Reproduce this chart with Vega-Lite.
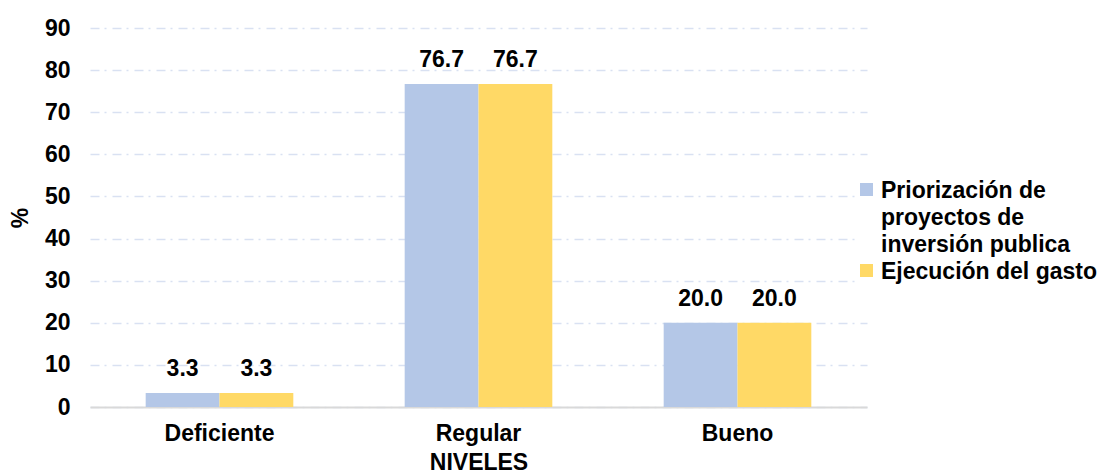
{
  "$schema": "https://vega.github.io/schema/vega-lite/v6.json",
  "width": 777,
  "height": 379,
  "autosize": {"type": "none"},
  "padding": {"left": 90, "top": 28, "right": 237, "bottom": 67},
  "background": "white",
  "config": {
    "font": "Liberation Sans",
    "view": {"stroke": null}
  },
  "data": {
    "values": [
      {"nivel": "Deficiente", "serie": "Priorización de proyectos de inversión publica", "valor": 3.3},
      {"nivel": "Deficiente", "serie": "Ejecución del gasto", "valor": 3.3},
      {"nivel": "Regular", "serie": "Priorización de proyectos de inversión publica", "valor": 76.7},
      {"nivel": "Regular", "serie": "Ejecución del gasto", "valor": 76.7},
      {"nivel": "Bueno", "serie": "Priorización de proyectos de inversión publica", "valor": 20.0},
      {"nivel": "Bueno", "serie": "Ejecución del gasto", "valor": 20.0}
    ]
  },
  "encoding": {
    "x": {
      "field": "nivel",
      "type": "nominal",
      "sort": ["Deficiente", "Regular", "Bueno"],
      "scale": {"paddingInner": 0.43, "paddingOuter": 0.215},
      "axis": {
        "title": "NIVELES",
        "labelAngle": 0,
        "labelFontSize": 23,
        "labelFontWeight": "bold",
        "labelColor": "#000000",
        "labelPadding": 15,
        "ticks": false,
        "domainColor": "#d9d9d9",
        "domainWidth": 2,
        "titleFontSize": 23,
        "titleFontWeight": "bold",
        "titleColor": "#000000",
        "titlePadding": 6
      }
    },
    "xOffset": {
      "field": "serie",
      "type": "nominal",
      "sort": ["Priorización de proyectos de inversión publica", "Ejecución del gasto"],
      "scale": {"paddingInner": 0, "paddingOuter": 0}
    },
    "y": {
      "field": "valor",
      "type": "quantitative",
      "scale": {"domain": [0, 90], "nice": false},
      "axis": {
        "title": "%",
        "values": [0, 10, 20, 30, 40, 50, 60, 70, 80, 90],
        "labelFontSize": 23,
        "labelFontWeight": "bold",
        "labelColor": "#000000",
        "labelPadding": 20,
        "ticks": false,
        "domain": false,
        "grid": true,
        "gridColor": "#d9e1f2",
        "gridWidth": 1.5,
        "gridDash": [9, 5, 2, 6],
        "titleFontSize": 23,
        "titleFontWeight": "bold",
        "titleColor": "#000000",
        "titlePadding": 12
      }
    }
  },
  "layer": [
    {
      "mark": {"type": "bar"},
      "encoding": {
        "color": {
          "field": "serie",
          "type": "nominal",
          "sort": ["Priorización de proyectos de inversión publica", "Ejecución del gasto"],
          "scale": {
            "domain": ["Priorización de proyectos de inversión publica", "Ejecución del gasto"],
            "range": ["#b4c7e7", "#ffd966"]
          },
          "legend": {
            "title": null,
            "orient": "none",
            "legendX": 765,
            "legendY": 150,
            "symbolType": "square",
            "symbolSize": 170,
            "symbolStrokeWidth": 0,
            "labelFontSize": 23,
            "labelFontWeight": "bold",
            "labelColor": "#000000",
            "labelOffset": 3,
            "labelLimit": 300,
            "labelBaseline": "alphabetic",
            "rowPadding": 2,
            "fillColor": "white",
            "labelExpr": "datum.label == 'Ejecución del gasto' ? datum.label : ['Priorización de', 'proyectos de', 'inversión publica']",
            "encode": {
              "labels": {"update": {"dy": {"value": 8}, "lineHeight": {"value": 27}}}
            }
          }
        }
      }
    },
    {
      "mark": {"type": "text", "baseline": "alphabetic", "dy": -17, "fontSize": 23, "fontWeight": "bold", "color": "#000000"},
      "encoding": {
        "text": {"field": "valor", "type": "quantitative", "format": ".1f"}
      }
    }
  ]
}
